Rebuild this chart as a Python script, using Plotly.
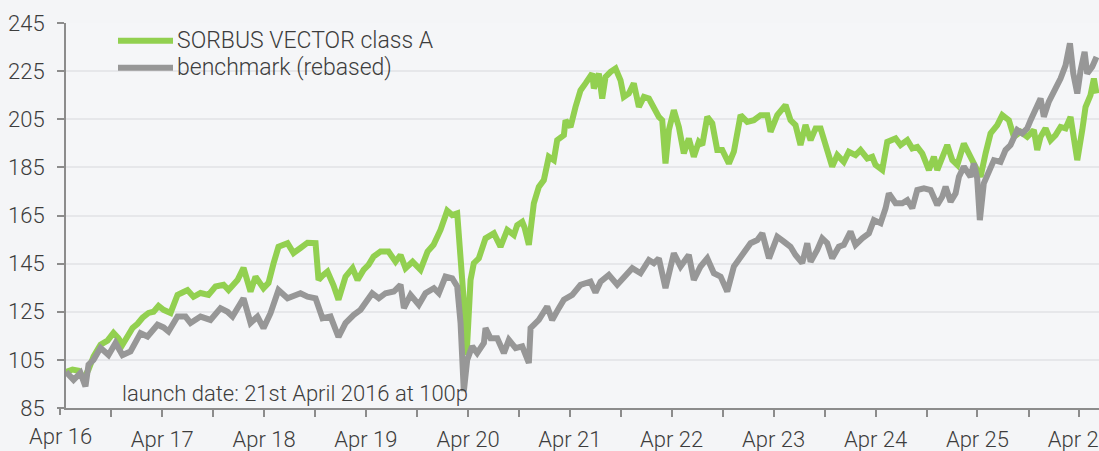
import pandas as pd
import plotly.graph_objects as go

# ---- data (decimal years, index values) ----
fund_years = [2016.304, 2016.368, 2016.427, 2016.476, 2016.525, 2016.574, 2016.643, 2016.711, 2016.770, 2016.819,
              2016.858, 2016.907, 2016.957, 2017.006, 2017.055, 2017.114, 2017.163, 2017.212, 2017.261, 2017.330,
              2017.369, 2017.398, 2017.447, 2017.496, 2017.555, 2017.624, 2017.702, 2017.771, 2017.850, 2017.899,
              2017.987, 2018.046, 2018.115, 2018.164, 2018.242, 2018.291, 2018.340, 2018.389, 2018.478, 2018.537,
              2018.605, 2018.674, 2018.753, 2018.782, 2018.821, 2018.870, 2018.929, 2018.978, 2019.047, 2019.116,
              2019.165, 2019.224, 2019.273, 2019.322, 2019.390, 2019.469, 2019.538, 2019.587, 2019.636, 2019.705,
              2019.783, 2019.852, 2019.911, 2019.979, 2020.045, 2020.094, 2020.143, 2020.176, 2020.205, 2020.235,
              2020.274, 2020.306, 2020.355, 2020.421, 2020.503, 2020.568, 2020.634, 2020.699, 2020.732, 2020.781,
              2020.804, 2020.846, 2020.895, 2020.944, 2020.993, 2021.042, 2021.091, 2021.124, 2021.190, 2021.206,
              2021.255, 2021.304, 2021.353, 2021.402, 2021.468, 2021.484, 2021.533, 2021.566, 2021.599, 2021.648,
              2021.697, 2021.746, 2021.778, 2021.827, 2021.876, 2021.926, 2021.975, 2022.024, 2022.073, 2022.122,
              2022.155, 2022.187, 2022.220, 2022.269, 2022.318, 2022.367, 2022.416, 2022.465, 2022.514, 2022.548,
              2022.597, 2022.646, 2022.695, 2022.744, 2022.809, 2022.858, 2022.924, 2022.989, 2023.054, 2023.120,
              2023.186, 2023.218, 2023.284, 2023.365, 2023.414, 2023.463, 2023.512, 2023.561, 2023.611, 2023.660,
              2023.709, 2023.774, 2023.823, 2023.873, 2023.937, 2023.986, 2024.052, 2024.101, 2024.167, 2024.216,
              2024.248, 2024.314, 2024.363, 2024.445, 2024.494, 2024.560, 2024.609, 2024.658, 2024.707, 2024.772,
              2024.821, 2024.854, 2024.903, 2024.952, 2025.002, 2025.051, 2025.115, 2025.164, 2025.213, 2025.279,
              2025.328, 2025.377, 2025.443, 2025.492, 2025.557, 2025.606, 2025.672, 2025.737, 2025.802, 2025.835,
              2025.868, 2025.917, 2025.966, 2026.015, 2026.064, 2026.113, 2026.162, 2026.228, 2026.277, 2026.309,
              2026.358, 2026.391, 2026.417]
fund_values = [100.0, 101.0, 100.5, 97.0, 101.0, 106.4, 111.3, 113.0, 116.2, 114.0,
               111.3, 114.7, 118.3, 120.0, 122.5, 124.5, 125.0, 127.4, 125.8, 124.5,
               129.0, 132.0, 133.0, 134.0, 131.2, 132.8, 132.0, 135.5, 136.2, 134.0,
               138.2, 143.2, 133.4, 139.6, 134.8, 137.0, 145.0, 152.0, 153.5, 149.4,
               151.5, 153.7, 153.5, 138.2, 140.0, 141.7, 136.0, 130.0, 139.6, 143.1,
               138.2, 142.4, 144.5, 147.9, 150.0, 150.0, 145.8, 148.6, 143.1, 145.8,
               142.4, 150.0, 152.8, 159.0, 167.0, 165.2, 165.9, 149.3, 131.0, 107.0,
               138.2, 145.2, 147.2, 155.5, 157.6, 152.0, 159.0, 156.9, 161.0, 162.4,
               160.0, 152.8, 170.0, 176.9, 179.7, 189.4, 188.0, 196.3, 198.4, 204.6,
               201.8, 210.1, 217.0, 219.9, 224.0, 217.8, 224.0, 213.6, 222.6, 224.7,
               226.1, 221.2, 214.3, 215.7, 219.9, 210.1, 214.3, 213.6, 209.5, 206.0,
               204.6, 186.6, 200.5, 208.8, 201.8, 190.8, 197.0, 189.4, 195.6, 194.3,
               206.0, 203.3, 192.2, 192.2, 186.6, 191.5, 206.7, 203.9, 204.6, 206.7,
               206.7, 199.8, 206.7, 210.9, 204.6, 202.6, 194.3, 202.6, 196.3, 201.2,
               201.2, 192.9, 185.3, 190.1, 187.3, 191.5, 190.1, 192.2, 188.7, 189.4,
               186.0, 183.9, 195.6, 197.0, 194.3, 196.3, 192.9, 193.5, 190.8, 183.9,
               189.4, 183.9, 189.4, 194.3, 188.0, 186.0, 194.9, 190.8, 186.6, 181.1,
               190.8, 199.1, 202.6, 206.7, 204.6, 197.7, 199.8, 197.7, 200.5, 192.2,
               197.7, 201.2, 196.3, 198.4, 201.8, 201.2, 206.0, 188.0, 200.5, 210.1,
               215.0, 221.9, 215.7]

bench_years = [2016.304, 2016.378, 2016.446, 2016.476, 2016.495, 2016.525, 2016.574, 2016.643, 2016.721, 2016.790,
               2016.858, 2016.937, 2016.986, 2017.035, 2017.104, 2017.202, 2017.261, 2017.310, 2017.398, 2017.477,
               2017.526, 2017.624, 2017.722, 2017.820, 2017.889, 2017.938, 2018.046, 2018.115, 2018.183, 2018.242,
               2018.311, 2018.389, 2018.478, 2018.605, 2018.674, 2018.753, 2018.821, 2018.900, 2018.978, 2019.047,
               2019.128, 2019.194, 2019.309, 2019.374, 2019.440, 2019.521, 2019.587, 2019.620, 2019.685, 2019.766,
               2019.832, 2019.914, 2019.963, 2020.028, 2020.094, 2020.143, 2020.176, 2020.208, 2020.241, 2020.290,
               2020.339, 2020.405, 2020.421, 2020.470, 2020.536, 2020.601, 2020.650, 2020.716, 2020.781, 2020.846,
               2020.863, 2020.944, 2021.026, 2021.075, 2021.140, 2021.190, 2021.272, 2021.353, 2021.451, 2021.500,
               2021.550, 2021.631, 2021.713, 2021.778, 2021.861, 2021.942, 2022.024, 2022.073, 2022.122, 2022.187,
               2022.269, 2022.335, 2022.416, 2022.465, 2022.531, 2022.597, 2022.662, 2022.728, 2022.793, 2022.858,
               2022.940, 2023.022, 2023.088, 2023.137, 2023.203, 2023.284, 2023.350, 2023.414, 2023.463, 2023.529,
               2023.578, 2023.611, 2023.676, 2023.725, 2023.774, 2023.823, 2023.888, 2023.937, 2024.003, 2024.052,
               2024.118, 2024.183, 2024.232, 2024.298, 2024.347, 2024.379, 2024.445, 2024.511, 2024.560, 2024.609,
               2024.658, 2024.723, 2024.789, 2024.854, 2024.903, 2024.936, 2024.985, 2025.034, 2025.067, 2025.115,
               2025.181, 2025.213, 2025.246, 2025.272, 2025.311, 2025.360, 2025.410, 2025.475, 2025.524, 2025.573,
               2025.639, 2025.688, 2025.737, 2025.770, 2025.819, 2025.868, 2025.900, 2025.949, 2026.015, 2026.064,
               2026.113, 2026.156, 2026.189, 2026.228, 2026.261, 2026.300, 2026.326, 2026.375, 2026.417]
bench_values = [100.0, 96.7, 99.6, 96.0, 94.0, 103.0, 105.0, 110.0, 107.0, 112.0,
                107.0, 108.5, 112.0, 116.1, 114.7, 119.6, 118.5, 116.8, 123.0, 123.0,
                120.3, 123.0, 121.6, 126.5, 125.0, 123.0, 130.6, 120.3, 123.0, 118.2,
                124.4, 134.0, 130.6, 132.7, 131.3, 130.6, 122.3, 123.0, 114.5, 120.3,
                123.7, 125.8, 132.7, 130.6, 132.7, 133.4, 136.2, 126.5, 132.0, 127.9,
                132.7, 134.8, 132.7, 139.6, 138.9, 135.5, 120.3, 92.0, 105.0, 110.6,
                107.8, 112.0, 118.2, 114.0, 114.0, 107.8, 113.3, 109.9, 110.6, 103.7,
                118.2, 121.6, 127.2, 121.6, 126.5, 130.0, 132.0, 136.2, 137.5, 133.0,
                137.5, 140.3, 136.2, 139.6, 143.1, 141.0, 146.5, 145.2, 147.2, 134.8,
                149.3, 143.8, 148.6, 138.2, 143.8, 147.2, 141.0, 139.6, 133.4, 143.8,
                148.6, 153.5, 154.8, 157.6, 147.2, 156.2, 154.1, 152.0, 148.6, 145.2,
                153.5, 145.8, 150.7, 155.5, 153.5, 147.2, 152.0, 152.8, 158.3, 152.8,
                155.5, 157.6, 163.1, 161.8, 168.0, 174.2, 170.1, 170.1, 171.4, 168.0,
                175.6, 176.3, 175.6, 169.4, 172.8, 177.0, 170.7, 174.2, 181.1, 185.3,
                181.1, 186.6, 180.4, 163.1, 178.4, 183.9, 188.0, 187.3, 192.2, 194.3,
                200.5, 199.1, 201.2, 204.6, 208.8, 213.6, 206.0, 212.3, 217.8, 221.9,
                227.4, 236.5, 224.0, 215.7, 225.4, 233.0, 224.0, 226.8, 230.9]

fund_name = "SORBUS VECTOR class A"
bench_name = "benchmark (rebased)"
y_ticks = [85, 105, 125, 145, 165, 185, 205, 225, 245]
x_tick_years = list(range(2016, 2027))
note_text = "launch date: 21st April 2016 at 100p"


def to_dates(years):
    base = pd.Timestamp("2016-01-01")
    return [base + pd.to_timedelta((y - 2016) * 365.25, unit="D") for y in years]


fund_dates = to_dates(fund_years)
bench_dates = to_dates(bench_years)

GREEN = "#92D050"
GREY = "#979797"
TEXT = "#3d3d3d"
AXIS = "#8c8c8c"
FONT = dict(family="Roboto, 'Liberation Sans', sans-serif", size=22, color=TEXT, weight=300)
LEG_FONT = dict(FONT, size=23)

fig = go.Figure()
fig.add_trace(go.Scatter(x=fund_dates, y=fund_values, mode="lines", name=fund_name,
                         line=dict(color=GREEN, width=6), showlegend=False, hoverinfo="skip"))
fig.add_trace(go.Scatter(x=bench_dates, y=bench_values, mode="lines", name=bench_name,
                         line=dict(color=GREY, width=6), showlegend=False, hoverinfo="skip"))

# x ticks: every 6 months, labels on April only
tickvals, ticktext = [], []
for yr in x_tick_years[1:]:
    tickvals.append(f"{yr - 1}-10-01")
    ticktext.append("")
    tickvals.append(f"{yr}-04-01")
    ticktext.append(f"Apr {yr % 100:02d}")

W, H = 1099, 451
L, R, T, B = 66, 0, 23, 43
plot_w = W - L - R
plot_h = H - T - B
px_per_year = 101.9
x_start = pd.Timestamp("2016-04-21")
x_end = x_start + pd.to_timedelta(plot_w / px_per_year * 365.25, unit="D")

fig.update_layout(
    width=W, height=H,
    margin=dict(l=L, r=R, t=T, b=B, autoexpand=False),
    paper_bgcolor="#f4f5f7",
    plot_bgcolor="#f5f6f8",
    font=FONT,
    xaxis=dict(range=[x_start, x_end], type="date", showgrid=False, zeroline=False,
               showline=True, linecolor=AXIS, linewidth=2, automargin=False,
               ticks="outside", ticklen=7, tickwidth=2, tickcolor=AXIS,
               tickmode="array", tickvals=tickvals, ticktext=ticktext,
               tickfont=FONT, ticklabelstandoff=4, ticklabeloverflow="allow"),
    yaxis=dict(range=[85, 245], showgrid=True, gridcolor="#e6e7ea", gridwidth=2, zeroline=False,
               showline=True, linecolor=AXIS, linewidth=2, automargin=False,
               ticks="outside", ticklen=7, tickwidth=2, tickcolor=AXIS,
               tickmode="array", tickvals=y_ticks, tickfont=FONT, ticklabelstandoff=8),
)

# first x tick (Apr 16) lies just left of the launch-date axis line
apr16_px = -6.0 / plot_w
fig.add_shape(type="line", xref="paper", yref="paper", x0=-8.0 / plot_w, x1=0, y0=0, y1=0,
              line=dict(color=AXIS, width=2))
fig.add_shape(type="line", xref="paper", yref="paper", x0=apr16_px, x1=apr16_px,
              y0=0, y1=-7.0 / plot_h, line=dict(color=AXIS, width=2))
fig.add_annotation(xref="paper", yref="paper", x=apr16_px, y=-29.0 / plot_h, text="Apr 16",
                   showarrow=False, xanchor="center", yanchor="middle", font=FONT)

# manual legend
leg_rows = [(fund_name, GREEN, 40.7), (bench_name, GREY, 67.7)]
for name, col, ypx in leg_rows:
    yp = (H - B - ypx) / plot_h
    fig.add_shape(type="line", xref="paper", yref="paper",
                  x0=(118 - L) / plot_w, x1=(173 - L) / plot_w, y0=yp, y1=yp,
                  line=dict(color=col, width=6))
    fig.add_annotation(xref="paper", yref="paper", x=(175 - L) / plot_w, y=yp, text=name,
                       showarrow=False, xanchor="left", yanchor="middle", font=LEG_FONT)

fig.add_annotation(xref="paper", yref="paper", x=(120 - L) / plot_w, y=(H - B - 393) / plot_h,
                   text=note_text, showarrow=False, xanchor="left", yanchor="middle", font=FONT)

fig.write_html("out.html", config={"displayModeBar": False, "staticPlot": True},
               post_script="document.body.style.margin='0';document.body.style.overflow='hidden';")
